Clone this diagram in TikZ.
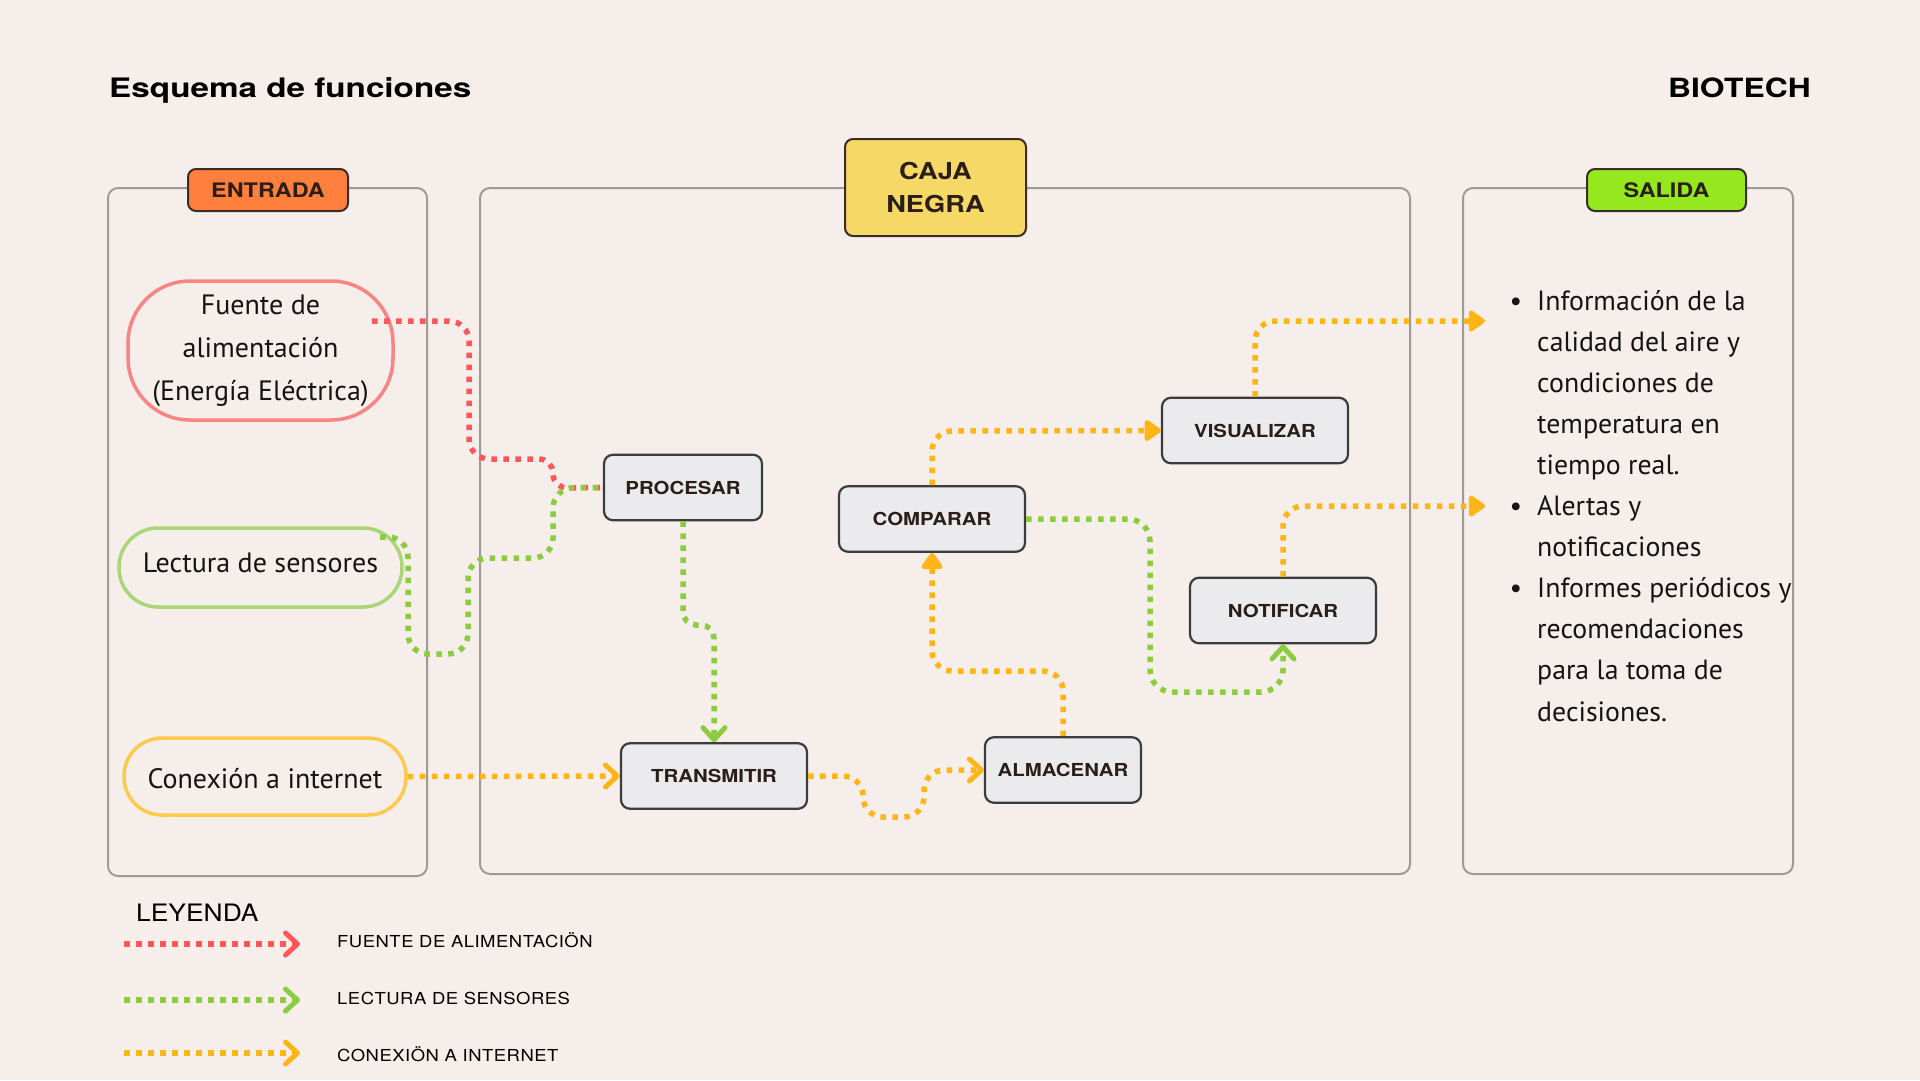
\documentclass[tikz,border=0pt]{standalone}
\usepackage{fontspec}
\setmainfont{PT Sans}
\newfontfamily\titlefont[FakeStretch=1.24]{TeX Gyre Heros}
\newfontfamily\brandfont[FakeStretch=1.2]{TeX Gyre Heros}
\newfontfamily\boxfont[FakeStretch=1.14]{TeX Gyre Heros}
\newfontfamily\tagfont[FakeStretch=1.17]{TeX Gyre Heros}
\newfontfamily\legfont[FakeStretch=1.1]{TeX Gyre Heros}
\newfontfamily\leglabfont[FakeStretch=1.12,LetterSpace=3]{TeX Gyre Heros}
\usetikzlibrary{arrows.meta}
\definecolor{bgc}{HTML}{F5EEEB}
\definecolor{cpanel}{HTML}{9E9A98}
\definecolor{cstroke}{HTML}{3A2C27}
\definecolor{ctext}{HTML}{2B1D17}
\definecolor{centrada}{HTML}{FF7F3C}
\definecolor{ccaja}{HTML}{F5D865}
\definecolor{csalida}{HTML}{96E81E}
\definecolor{cboxfill}{HTML}{EBEBEE}
\definecolor{cboxline}{HTML}{3C3C3C}
\definecolor{cred}{HTML}{FF5757}
\definecolor{cgreen}{HTML}{8DCB3F}
\definecolor{corange}{HTML}{FFB515}
\definecolor{cpillred}{HTML}{F98484}
\definecolor{cpillgreen}{HTML}{A9D676}
\definecolor{cpillorange}{HTML}{FFC94D}
\tikzset{
  panel/.style={draw=cpanel, line width=2pt, rounded corners=10pt},
  tagbox/.style={draw=cstroke, line width=2pt, rounded corners=8pt, inner sep=0pt,
    font=\tagfont\bfseries\fontsize{20}{24}\selectfont, text=ctext, align=center},
  fnbox/.style={draw=cboxline, fill=cboxfill, line width=2.2pt, rounded corners=9pt,
    minimum height=65.5pt, inner sep=0pt, font=\boxfont\bfseries\fontsize{17.9}{21}\selectfont, text=ctext},
  pill/.style={line width=3.5pt, inner sep=0pt, align=center, font=\fontsize{28}{43}\selectfont, text=black!92},
  conn/.style={line width=5.5pt, dash pattern=on 5.5pt off 6.5pt},
  redline/.style={conn, draw=cred},
  greenline/.style={conn, draw=cgreen},
  orangeline/.style={conn, draw=corange},
  chevtip/.style={-{Straight Barb[length=12pt,width=22pt,line width=5pt,round]}},
  tritip/.style={-{Triangle[length=18pt,width=24pt,round]}},
  saltext/.style={anchor=base west, inner sep=0pt, font=\fontsize{27.8}{34}\selectfont, text=black!92},
  leglab/.style={anchor=base west, inner sep=0pt, font=\leglabfont\fontsize{16.5}{19}\selectfont, text=black}
}
\begin{document}
\begin{tikzpicture}[x=1pt,y=-1pt]
\useasboundingbox (0,0) rectangle (1920,1080);
\fill[bgc] (0,0) rectangle (1920,1080);

% titles
\node[anchor=base west, inner sep=0pt, font=\titlefont\bfseries\fontsize{26.8}{30}\selectfont] (title) at (109,97) {Esquema de funciones};
\node[anchor=base east, inner sep=0pt, font=\brandfont\bfseries\fontsize{26.5}{30}\selectfont] (brand) at (1811,97) {BIOTECH};

% panels
\draw[panel] (108,188) rectangle (427,876);
\draw[panel] (480,188) rectangle (1410,874);
\draw[panel] (1463,188) rectangle (1793,874);

% tags
\node[tagbox, fill=centrada, minimum width=160pt, minimum height=42pt] (tagentrada) at (268,190) {ENTRADA};
\node[tagbox, fill=ccaja, minimum width=181pt, minimum height=97pt, font=\tagfont\bfseries\fontsize{23.3}{33.5}\selectfont] (tagcaja) at (935.5,187.5) {CAJA\\NEGRA};
\node[tagbox, fill=csalida, minimum width=159pt, minimum height=42pt] (tagsalida) at (1666.5,190) {SALIDA};

% inputs
\node[pill, draw=cpillred, minimum width=265pt, minimum height=139pt, rounded corners=62pt] (fuente) at (260.5,350.5) {Fuente de\\alimentación\\(Energía Eléctrica)\rule[-4pt]{0pt}{0pt}};
\node[pill, draw=cpillgreen, minimum width=283pt, minimum height=79pt, rounded corners=39pt, text height=15pt, text depth=6pt] (lectura) at (260.5,567.5) {Lectura de sensores};
\node[pill, draw=cpillorange, minimum width=282pt, minimum height=77pt, rounded corners=38pt, text height=24pt, text depth=0pt] (conexion) at (265,776.5) {Conexión a internet};

% function boxes
\node[fnbox, minimum width=158pt] (procesar) at (683,487.5) {PROCESAR};
\node[fnbox, minimum width=186pt] (comparar) at (932,519) {COMPARAR};
\node[fnbox, minimum width=186pt] (transmitir) at (714,776) {TRANSMITIR};
\node[fnbox, minimum width=156pt] (almacenar) at (1063,770) {ALMACENAR};
\node[fnbox, minimum width=186pt] (visualizar) at (1255,430.5) {VISUALIZAR};
\node[fnbox, minimum width=186pt] (notificar) at (1283,610.5) {NOTIFICAR};

% output text
\foreach \t [count=\i] in {Información de la,calidad del aire y,condiciones de,temperatura en,tiempo real.,Alertas y,notificaciones,Informes periódicos y,recomendaciones,para la toma de,decisiones.}
  \node[saltext] (sal\i) at (1537,{310+41.1*(\i-1)}) {\t};
\node[saltext, anchor=base] (bul1) at (1516,310) {\textbullet};
\node[saltext, anchor=base] (bul2) at (1516,515.5) {\textbullet};
\node[saltext, anchor=base] (bul3) at (1516,597.7) {\textbullet};

% free ends
\coordinate (fout) at (372,321);
\coordinate (lout) at (380,537);
\coordinate (salin1) at (1485,321);
\coordinate (salin2) at (1485,506);

% connectors
\draw[redline] (fout) [rounded corners=20pt] -- (469,321) -- (469,459) [rounded corners=14pt] -- (553,459) -- (553,488) -- (procesar.west);
\draw[greenline, rounded corners=20pt] (lout) -- (408,537) -- (408,654) -- (468,654) -- (468,558) -- (553,558) -- (553,488) -- (procesar.west);
\draw[greenline, chevtip, rounded corners=13pt] (procesar.south) -- (683,625) -- (714,625) -- (transmitir.north);
\draw[orangeline, chevtip] (conexion.east) -- (transmitir.west);
\draw[orangeline, chevtip, rounded corners=20pt] (transmitir.east) -- (863,776) -- (863,817) -- (924,817) -- (924,770) -- (almacenar.west);
\draw[orangeline, tritip, rounded corners=20pt] (almacenar.north) -- (1063,671) -- (932,671) -- (comparar.south);
\draw[orangeline, tritip, rounded corners=20pt] (comparar.north) -- (932,431) -- (visualizar.west);
\draw[greenline, chevtip, rounded corners=22pt] (comparar.east) -- (1150,519) -- (1150,692) -- (1283,692) -- (notificar.south);
\draw[orangeline, tritip, rounded corners=20pt] (visualizar.north) -- (1255,321) -- (salin1);
\draw[orangeline, tritip, rounded corners=20pt] (notificar.north) -- (1283,506) -- (salin2);

% legend
\node[anchor=base west, inner sep=0pt, font=\legfont\fontsize{24}{28}\selectfont] (leyenda) at (136,921) {LEYENDA};
\coordinate (lg1a) at (124,944); \coordinate (lg1b) at (300,944);
\coordinate (lg2a) at (124,1000); \coordinate (lg2b) at (300,1000);
\coordinate (lg3a) at (124,1053); \coordinate (lg3b) at (300,1053);
\draw[redline, chevtip] (lg1a) -- (lg1b);
\draw[greenline, chevtip] (lg2a) -- (lg2b);
\draw[orangeline, chevtip] (lg3a) -- (lg3b);
\node[leglab] (lab1) at (337,947.5) {FUENTE DE ALIMENTACIÖN};
\node[leglab] (lab2) at (337,1004) {LECTURA DE SENSORES};
\node[leglab] (lab3) at (337,1061.5) {CONEXIÖN A INTERNET};
\end{tikzpicture}
\end{document}
